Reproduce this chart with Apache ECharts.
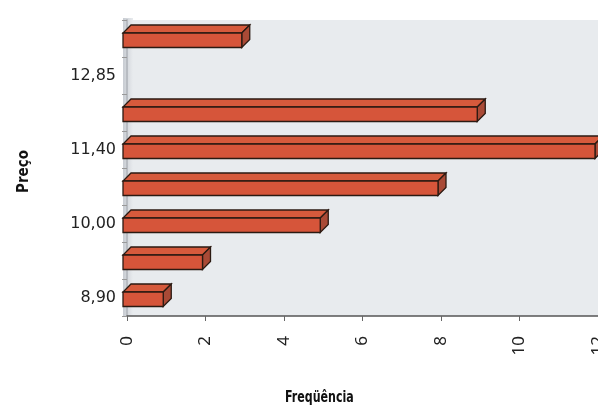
<!DOCTYPE html>
<html>
<head>
<meta charset="utf-8">
<script src="https://cdn.jsdelivr.net/npm/echarts@6/dist/echarts.min.js"></script>
<style>
html,body{margin:0;padding:0;background:#fff;}
#chart{width:598px;height:412px;}
</style>
</head>
<body>
<div id="chart"></div>
<script>
// Price classes (bottom to top); only every other one is labelled in the reference
const categories = ['8,90', '', '10,00', '', '11,40', '', '12,85', ''];
// Frequencies
const frequencies = [1, 2, 5, 8, 12, 9, 0, 3];
const xTicks = [0, 2, 4, 6, 8, 10, 12];
const yTitle = 'Preço';
const xTitle = 'Freqüência';

const chart = echarts.init(document.getElementById('chart'));

function renderBar(params, api) {
  const v = api.value(0);
  const c = api.value(1);
  if (!(v > 0)) return null;
  const p0 = api.coord([0, c]);
  const p1 = api.coord([v, c]);
  const dx = 8, dy = 8;
  const yT = p0[1] - 5.5, yB = p0[1] + 9;
  const xL = p0[0] - 4, xR = p1[0] - 3;
  const stroke = '#2b1a12';
  return {
    type: 'group',
    children: [
      { type: 'polygon', shape: { points: [[xL, yT], [xR, yT], [xR + dx, yT - dy], [xL + dx, yT - dy]] },
        style: { fill: '#d65a3c', stroke: stroke, lineWidth: 1.3 } },
      { type: 'polygon', shape: { points: [[xR, yT], [xR + dx, yT - dy], [xR + dx, yB - dy], [xR, yB]] },
        style: { fill: '#a94a36', stroke: stroke, lineWidth: 1.3 } },
      { type: 'rect', shape: { x: xL, y: yT, width: xR - xL, height: yB - yT },
        style: { fill: '#d6553a', stroke: stroke, lineWidth: 1.3 } }
    ]
  };
}

const option = {
  animation: false,
  backgroundColor: '#ffffff',
  grid: { left: 127, right: 0, top: 20, bottom: 96, show: true, backgroundColor: '#e8ebee', borderWidth: 0,
    containLabel: false, outerBoundsMode: 'none' },
  xAxis: {
    type: 'value', min: xTicks[0], max: xTicks[xTicks.length - 1], interval: 2,
    axisLine: { show: true, lineStyle: { color: '#555', width: 1.5 } },
    axisTick: { show: true, length: 5, lineStyle: { color: '#666' } },
    splitLine: { show: false },
    axisLabel: { rotate: 90, margin: 20, fontFamily: 'Noto Sans', fontSize: 17, color: '#222',
      formatter: v => String(v) }
  },
  yAxis: {
    type: 'category', data: categories,
    axisLine: { show: true, lineStyle: { color: '#b8bcc2', width: 2 } },
    axisTick: { show: true, length: 5, lineStyle: { color: '#999' } },
    axisLabel: { interval: 0, margin: 11, fontFamily: 'DejaVu Sans', fontSize: 16, color: '#222' },
    splitLine: { show: false }
  },
  graphic: [
    { type: 'rect', left: 123, top: 18, shape: { width: 10, height: 298 }, z: 0,
      style: { fill: new echarts.graphic.LinearGradient(0, 0, 1, 0, [{ offset: 0, color: '#c8ccd2' }, { offset: 1, color: '#e8ebee' }]) } },
    { type: 'text', left: 17, top: 150, rotation: Math.PI / 2, z: 10,
      style: { text: yTitle, font: 'bold 15px "DejaVu Sans Condensed", sans-serif', fill: '#111' } },
    { type: 'text', left: 285, top: 391, z: 10, scaleX: 0.82,
      style: { text: xTitle, font: 'bold 15px "DejaVu Sans Condensed", sans-serif', fill: '#111' } }
  ],
  series: [{
    type: 'custom',
    renderItem: renderBar,
    encode: { x: 0, y: 1 },
    clip: false,
    data: frequencies.map((f, i) => [f, i]),
    z: 5
  }]
};
chart.setOption(option);
</script>
</body>
</html>
